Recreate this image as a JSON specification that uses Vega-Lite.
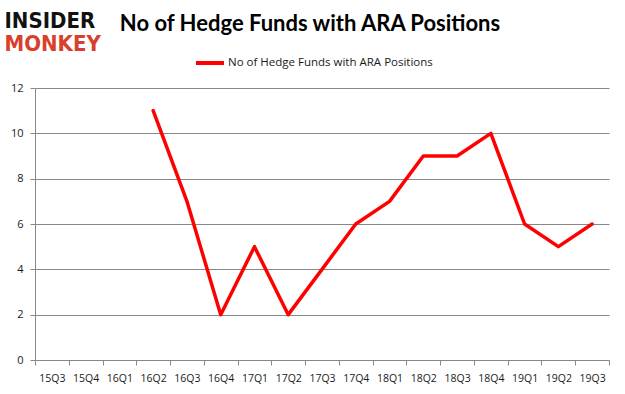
{
  "$schema": "https://vega.github.io/schema/vega-lite/v6.json",
  "width": 574,
  "height": 272,
  "autosize": "none",
  "padding": {"left": 35, "top": 88, "right": 16, "bottom": 34},
  "background": "white",
  "title": {
    "text": "No of Hedge Funds with ARA Positions",
    "font": "Lato",
    "fontSize": 22,
    "fontWeight": "bold",
    "color": "#000000",
    "anchor": "middle",
    "dx": -12,
    "frame": "group",
    "offset": -27
  },
  "data": {
    "values": [
      {"quarter": "15Q3", "funds": null, "series": "No of Hedge Funds with ARA Positions"},
      {"quarter": "15Q4", "funds": null, "series": "No of Hedge Funds with ARA Positions"},
      {"quarter": "16Q1", "funds": null, "series": "No of Hedge Funds with ARA Positions"},
      {"quarter": "16Q2", "funds": 11, "series": "No of Hedge Funds with ARA Positions"},
      {"quarter": "16Q3", "funds": 7, "series": "No of Hedge Funds with ARA Positions"},
      {"quarter": "16Q4", "funds": 2, "series": "No of Hedge Funds with ARA Positions"},
      {"quarter": "17Q1", "funds": 5, "series": "No of Hedge Funds with ARA Positions"},
      {"quarter": "17Q2", "funds": 2, "series": "No of Hedge Funds with ARA Positions"},
      {"quarter": "17Q3", "funds": 4, "series": "No of Hedge Funds with ARA Positions"},
      {"quarter": "17Q4", "funds": 6, "series": "No of Hedge Funds with ARA Positions"},
      {"quarter": "18Q1", "funds": 7, "series": "No of Hedge Funds with ARA Positions"},
      {"quarter": "18Q2", "funds": 9, "series": "No of Hedge Funds with ARA Positions"},
      {"quarter": "18Q3", "funds": 9, "series": "No of Hedge Funds with ARA Positions"},
      {"quarter": "18Q4", "funds": 10, "series": "No of Hedge Funds with ARA Positions"},
      {"quarter": "19Q1", "funds": 6, "series": "No of Hedge Funds with ARA Positions"},
      {"quarter": "19Q2", "funds": 5, "series": "No of Hedge Funds with ARA Positions"},
      {"quarter": "19Q3", "funds": 6, "series": "No of Hedge Funds with ARA Positions"}
    ]
  },
  "mark": {"type": "line", "strokeWidth": 3.5, "strokeJoin": "round", "strokeCap": "round"},
  "encoding": {
    "x": {
      "field": "quarter",
      "type": "ordinal",
      "sort": null,
      "scale": {
        "type": "band",
        "paddingInner": 0,
        "paddingOuter": 0,
        "domain": ["15Q3","15Q4","16Q1","16Q2","16Q3","16Q4","17Q1","17Q2","17Q3","17Q4","18Q1","18Q2","18Q3","18Q4","19Q1","19Q2","19Q3"]
      },
      "axis": {
        "title": "MONKEY",
        "titleFont": "DejaVu Sans Condensed",
        "titleFontWeight": "bold",
        "titleFontSize": 22,
        "titleColor": "#d9402b",
        "titleAnchor": "start",
        "titleAlign": "left",
        "titleBaseline": "alphabetic",
        "titleX": -31,
        "titleY": -310,
        "labelAngle": 0,
        "labelFont": "Open Sans",
        "labelFontSize": 10.5,
        "labelColor": "#1a1a1a",
        "labelPadding": 8,
        "tickBand": "extent",
        "tickSize": 5,
        "tickColor": "#888888",
        "domainColor": "#888888",
        "grid": false
      }
    },
    "y": {
      "field": "funds",
      "type": "quantitative",
      "scale": {"domain": [0, 12], "nice": false},
      "axis": {
        "values": [0, 2, 4, 6, 8, 10, 12],
        "title": "INSIDER",
        "titleFont": "DejaVu Sans Condensed",
        "titleFontWeight": "bold",
        "titleFontSize": 22,
        "titleColor": "#111111",
        "titleAngle": 0,
        "titleAnchor": "start",
        "titleAlign": "left",
        "titleBaseline": "alphabetic",
        "titleX": -31,
        "titleY": -61,
        "labelFont": "Open Sans",
        "labelFontSize": 11,
        "labelColor": "#1a1a1a",
        "labelPadding": 7,
        "tickSize": 5,
        "tickColor": "#888888",
        "domainColor": "#888888",
        "grid": true,
        "gridColor": "#888888"
      }
    },
    "color": {
      "field": "series",
      "type": "nominal",
      "scale": {"range": ["#ff0000"]},
      "legend": {
        "title": null,
        "orient": "none",
        "legendX": 159,
        "legendY": -41,
        "symbolType": "stroke",
        "symbolSize": 784,
        "symbolStrokeWidth": 4,
        "labelFont": "Open Sans",
        "labelFontSize": 11.5,
        "labelColor": "#1a1a1a",
        "labelOffset": 2,
        "labelLimit": 400
      }
    }
  },
  "config": {
    "view": {"stroke": null}
  }
}
